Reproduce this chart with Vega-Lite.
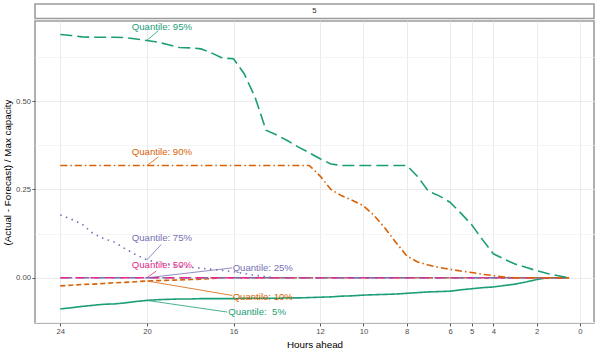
{
  "$schema": "https://vega.github.io/schema/vega-lite/v6.json",
  "padding": {"left": 1, "top": 3, "right": 5, "bottom": 5},
  "background": "white",
  "spacing": 0,
  "config": {
    "font": "Liberation Sans",
    "view": {"stroke": "#9c9c9c", "strokeWidth": 1.6, "fill": "white"}
  },
  "datasets": {
    "strip": [{"panel": "5"}],
    "labels": [
      {"label": "Quantile: 95%", "q": "q95", "h": 19.31, "v": 0.710, "ph": 20, "pv": 0.672, "sh": 19.47, "sv": 0.700},
      {"label": "Quantile: 90%", "q": "q90", "h": 19.31, "v": 0.356, "ph": 20, "pv": 0.318, "sh": 19.47, "sv": 0.342},
      {"label": "Quantile: 75%", "q": "q75", "h": 19.31, "v": 0.113, "ph": 20, "pv": 0.051, "sh": 19.34, "sv": 0.094},
      {"label": "Quantile: 50%", "q": "q50", "h": 19.31, "v": 0.035, "ph": 20, "pv": 0, "sh": 19.57, "sv": 0.019},
      {"label": "Quantile: 25%", "q": "q25", "h": 14.65, "v": 0.027, "ph": 20, "pv": 0, "sh": 16.06, "sv": 0.028},
      {"label": "Quantile: 10%", "q": "q10", "h": 14.65, "v": -0.054, "ph": 20, "pv": -0.009, "sh": 16.06, "sv": -0.05},
      {"label": "Quantile: \u00a05%", "q": "q5", "h": 14.91, "v": -0.097, "ph": 20, "pv": -0.064, "sh": 16.29, "sv": -0.097}
    ],
    "lines": [
      {"h":24,"q":"q5","v":-0.088},{"h":23.5,"q":"q5","v":-0.085},{"h":23,"q":"q5","v":-0.081},{"h":22.5,"q":"q5","v":-0.078},{"h":22,"q":"q5","v":-0.075},{"h":21.5,"q":"q5","v":-0.074},{"h":21,"q":"q5","v":-0.071},{"h":20.5,"q":"q5","v":-0.067},{"h":20,"q":"q5","v":-0.064},{"h":19.5,"q":"q5","v":-0.062},{"h":19,"q":"q5","v":-0.061},{"h":18.5,"q":"q5","v":-0.060},{"h":18,"q":"q5","v":-0.060},{"h":17.5,"q":"q5","v":-0.059},{"h":17,"q":"q5","v":-0.059},{"h":16.5,"q":"q5","v":-0.059},{"h":16,"q":"q5","v":-0.059},{"h":15.5,"q":"q5","v":-0.058},{"h":15,"q":"q5","v":-0.058},{"h":14.5,"q":"q5","v":-0.058},{"h":14,"q":"q5","v":-0.058},{"h":13.5,"q":"q5","v":-0.057},{"h":13,"q":"q5","v":-0.057},{"h":12.5,"q":"q5","v":-0.056},{"h":12,"q":"q5","v":-0.055},{"h":11.5,"q":"q5","v":-0.054},{"h":11,"q":"q5","v":-0.052},{"h":10.5,"q":"q5","v":-0.051},{"h":10,"q":"q5","v":-0.049},{"h":9.5,"q":"q5","v":-0.048},{"h":9,"q":"q5","v":-0.047},{"h":8.5,"q":"q5","v":-0.046},{"h":8,"q":"q5","v":-0.044},{"h":7.5,"q":"q5","v":-0.042},{"h":7,"q":"q5","v":-0.040},{"h":6.5,"q":"q5","v":-0.039},{"h":6,"q":"q5","v":-0.038},{"h":5.5,"q":"q5","v":-0.034},{"h":5,"q":"q5","v":-0.031},{"h":4.5,"q":"q5","v":-0.028},{"h":4,"q":"q5","v":-0.026},{"h":3.5,"q":"q5","v":-0.022},{"h":3,"q":"q5","v":-0.018},{"h":2.5,"q":"q5","v":-0.012},{"h":2,"q":"q5","v":-0.005},{"h":1.5,"q":"q5","v":0},{"h":1,"q":"q5","v":0},{"h":0.5,"q":"q5","v":0},

      {"h":24,"q":"q10","v":-0.023},{"h":23.5,"q":"q10","v":-0.021},{"h":23,"q":"q10","v":-0.019},{"h":22.5,"q":"q10","v":-0.018},{"h":22,"q":"q10","v":-0.016},{"h":21.5,"q":"q10","v":-0.014},{"h":21,"q":"q10","v":-0.013},{"h":20.5,"q":"q10","v":-0.011},{"h":20,"q":"q10","v":-0.009},{"h":19.5,"q":"q10","v":-0.008},{"h":19,"q":"q10","v":-0.007},{"h":18.5,"q":"q10","v":-0.006},{"h":18,"q":"q10","v":-0.005},{"h":17.5,"q":"q10","v":-0.004},{"h":17,"q":"q10","v":-0.002},{"h":16.5,"q":"q10","v":0},{"h":16,"q":"q10","v":0},{"h":15.5,"q":"q10","v":0},{"h":15,"q":"q10","v":0},{"h":14.5,"q":"q10","v":0},{"h":14,"q":"q10","v":0},{"h":13.5,"q":"q10","v":0},{"h":13,"q":"q10","v":0},{"h":12.5,"q":"q10","v":0},{"h":12,"q":"q10","v":0},{"h":11.5,"q":"q10","v":0},{"h":11,"q":"q10","v":0},{"h":10.5,"q":"q10","v":0},{"h":10,"q":"q10","v":0},{"h":9.5,"q":"q10","v":0},{"h":9,"q":"q10","v":0},{"h":8.5,"q":"q10","v":0},{"h":8,"q":"q10","v":0},{"h":7.5,"q":"q10","v":0},{"h":7,"q":"q10","v":0},{"h":6.5,"q":"q10","v":0},{"h":6,"q":"q10","v":0},{"h":5.5,"q":"q10","v":0},{"h":5,"q":"q10","v":0},{"h":4.5,"q":"q10","v":0},{"h":4,"q":"q10","v":0},{"h":3.5,"q":"q10","v":0},{"h":3,"q":"q10","v":0},{"h":2.5,"q":"q10","v":0},{"h":2,"q":"q10","v":0},{"h":1.5,"q":"q10","v":0},{"h":1,"q":"q10","v":0},{"h":0.5,"q":"q10","v":0},

      {"h":24,"q":"q25","v":0},{"h":23.5,"q":"q25","v":0},{"h":23,"q":"q25","v":0},{"h":22.5,"q":"q25","v":0},{"h":22,"q":"q25","v":0},{"h":21.5,"q":"q25","v":0},{"h":21,"q":"q25","v":0},{"h":20.5,"q":"q25","v":0},{"h":20,"q":"q25","v":0},{"h":19.5,"q":"q25","v":0},{"h":19,"q":"q25","v":0},{"h":18.5,"q":"q25","v":0},{"h":18,"q":"q25","v":0},{"h":17.5,"q":"q25","v":0},{"h":17,"q":"q25","v":0},{"h":16.5,"q":"q25","v":0},{"h":16,"q":"q25","v":0},{"h":15.5,"q":"q25","v":0},{"h":15,"q":"q25","v":0},{"h":14.5,"q":"q25","v":0},{"h":14,"q":"q25","v":0},{"h":13.5,"q":"q25","v":0},{"h":13,"q":"q25","v":0},{"h":12.5,"q":"q25","v":0},{"h":12,"q":"q25","v":0},{"h":11.5,"q":"q25","v":0},{"h":11,"q":"q25","v":0},{"h":10.5,"q":"q25","v":0},{"h":10,"q":"q25","v":0},{"h":9.5,"q":"q25","v":0},{"h":9,"q":"q25","v":0},{"h":8.5,"q":"q25","v":0},{"h":8,"q":"q25","v":0},{"h":7.5,"q":"q25","v":0},{"h":7,"q":"q25","v":0},{"h":6.5,"q":"q25","v":0},{"h":6,"q":"q25","v":0},{"h":5.5,"q":"q25","v":0},{"h":5,"q":"q25","v":0},{"h":4.5,"q":"q25","v":0},{"h":4,"q":"q25","v":0},{"h":3.5,"q":"q25","v":0},{"h":3,"q":"q25","v":0},{"h":2.5,"q":"q25","v":0},{"h":2,"q":"q25","v":0},{"h":1.5,"q":"q25","v":0},{"h":1,"q":"q25","v":0},{"h":0.5,"q":"q25","v":0},

      {"h":24,"q":"q50","v":0},{"h":23.5,"q":"q50","v":0},{"h":23,"q":"q50","v":0},{"h":22.5,"q":"q50","v":0},{"h":22,"q":"q50","v":0},{"h":21.5,"q":"q50","v":0},{"h":21,"q":"q50","v":0},{"h":20.5,"q":"q50","v":0},{"h":20,"q":"q50","v":0},{"h":19.5,"q":"q50","v":0},{"h":19,"q":"q50","v":0},{"h":18.5,"q":"q50","v":0},{"h":18,"q":"q50","v":0},{"h":17.5,"q":"q50","v":0},{"h":17,"q":"q50","v":0},{"h":16.5,"q":"q50","v":0},{"h":16,"q":"q50","v":0},{"h":15.5,"q":"q50","v":0},{"h":15,"q":"q50","v":0},{"h":14.5,"q":"q50","v":0},{"h":14,"q":"q50","v":0},{"h":13.5,"q":"q50","v":0},{"h":13,"q":"q50","v":0},{"h":12.5,"q":"q50","v":0},{"h":12,"q":"q50","v":0},{"h":11.5,"q":"q50","v":0},{"h":11,"q":"q50","v":0},{"h":10.5,"q":"q50","v":0},{"h":10,"q":"q50","v":0},{"h":9.5,"q":"q50","v":0},{"h":9,"q":"q50","v":0},{"h":8.5,"q":"q50","v":0},{"h":8,"q":"q50","v":0},{"h":7.5,"q":"q50","v":0},{"h":7,"q":"q50","v":0},{"h":6.5,"q":"q50","v":0},{"h":6,"q":"q50","v":0},{"h":5.5,"q":"q50","v":0},{"h":5,"q":"q50","v":0},{"h":4.5,"q":"q50","v":0},{"h":4,"q":"q50","v":0},{"h":3.5,"q":"q50","v":0},{"h":3,"q":"q50","v":0},{"h":2.5,"q":"q50","v":0},{"h":2,"q":"q50","v":0},{"h":1.5,"q":"q50","v":0},{"h":1,"q":"q50","v":0},{"h":0.5,"q":"q50","v":0},

      {"h":24,"q":"q75","v":0.178},{"h":23.5,"q":"q75","v":0.166},{"h":23,"q":"q75","v":0.152},{"h":22.5,"q":"q75","v":0.126},{"h":22,"q":"q75","v":0.111},{"h":21.5,"q":"q75","v":0.101},{"h":21,"q":"q75","v":0.082},{"h":20.5,"q":"q75","v":0.065},{"h":20,"q":"q75","v":0.051},{"h":19.5,"q":"q75","v":0.043},{"h":19,"q":"q75","v":0.037},{"h":18.5,"q":"q75","v":0.033},{"h":18,"q":"q75","v":0.030},{"h":17.5,"q":"q75","v":0.027},{"h":17,"q":"q75","v":0.024},{"h":16.5,"q":"q75","v":0.021},{"h":16,"q":"q75","v":0.017},{"h":15.5,"q":"q75","v":0.012},{"h":15,"q":"q75","v":0.007},{"h":14.5,"q":"q75","v":0.003},{"h":14,"q":"q75","v":0},{"h":13.5,"q":"q75","v":0},{"h":13,"q":"q75","v":0},{"h":12.5,"q":"q75","v":0},{"h":12,"q":"q75","v":0},{"h":11.5,"q":"q75","v":0},{"h":11,"q":"q75","v":0},{"h":10.5,"q":"q75","v":0},{"h":10,"q":"q75","v":0},{"h":9.5,"q":"q75","v":0},{"h":9,"q":"q75","v":0},{"h":8.5,"q":"q75","v":0},{"h":8,"q":"q75","v":0},{"h":7.5,"q":"q75","v":0},{"h":7,"q":"q75","v":0},{"h":6.5,"q":"q75","v":0},{"h":6,"q":"q75","v":0},{"h":5.5,"q":"q75","v":0},{"h":5,"q":"q75","v":0},{"h":4.5,"q":"q75","v":0},{"h":4,"q":"q75","v":0},{"h":3.5,"q":"q75","v":0},{"h":3,"q":"q75","v":0},{"h":2.5,"q":"q75","v":0},{"h":2,"q":"q75","v":0},{"h":1.5,"q":"q75","v":0},{"h":1,"q":"q75","v":0},{"h":0.5,"q":"q75","v":0},

      {"h":24,"q":"q90","v":0.318},{"h":23.5,"q":"q90","v":0.318},{"h":23,"q":"q90","v":0.318},{"h":22.5,"q":"q90","v":0.318},{"h":22,"q":"q90","v":0.318},{"h":21.5,"q":"q90","v":0.318},{"h":21,"q":"q90","v":0.318},{"h":20.5,"q":"q90","v":0.318},{"h":20,"q":"q90","v":0.318},{"h":19.5,"q":"q90","v":0.318},{"h":19,"q":"q90","v":0.318},{"h":18.5,"q":"q90","v":0.318},{"h":18,"q":"q90","v":0.318},{"h":17.5,"q":"q90","v":0.318},{"h":17,"q":"q90","v":0.318},{"h":16.5,"q":"q90","v":0.318},{"h":16,"q":"q90","v":0.318},{"h":15.5,"q":"q90","v":0.318},{"h":15,"q":"q90","v":0.318},{"h":14.5,"q":"q90","v":0.318},{"h":14,"q":"q90","v":0.318},{"h":13.5,"q":"q90","v":0.318},{"h":13,"q":"q90","v":0.318},{"h":12.5,"q":"q90","v":0.318},{"h":12,"q":"q90","v":0.288},{"h":11.5,"q":"q90","v":0.250},{"h":11,"q":"q90","v":0.232},{"h":10.5,"q":"q90","v":0.219},{"h":10,"q":"q90","v":0.204},{"h":9.5,"q":"q90","v":0.176},{"h":9,"q":"q90","v":0.140},{"h":8.5,"q":"q90","v":0.100},{"h":8,"q":"q90","v":0.062},{"h":7.5,"q":"q90","v":0.045},{"h":7,"q":"q90","v":0.036},{"h":6.5,"q":"q90","v":0.029},{"h":6,"q":"q90","v":0.024},{"h":5.5,"q":"q90","v":0.019},{"h":5,"q":"q90","v":0.015},{"h":4.5,"q":"q90","v":0.010},{"h":4,"q":"q90","v":0.006},{"h":3.5,"q":"q90","v":0.002},{"h":3,"q":"q90","v":0},{"h":2.5,"q":"q90","v":0},{"h":2,"q":"q90","v":0},{"h":1.5,"q":"q90","v":0},{"h":1,"q":"q90","v":0},{"h":0.5,"q":"q90","v":0},

      {"h":24,"q":"q95","v":0.689},{"h":23.5,"q":"q95","v":0.686},{"h":23,"q":"q95","v":0.682},{"h":22.5,"q":"q95","v":0.681},{"h":22,"q":"q95","v":0.681},{"h":21.5,"q":"q95","v":0.681},{"h":21,"q":"q95","v":0.680},{"h":20.5,"q":"q95","v":0.676},{"h":20,"q":"q95","v":0.672},{"h":19.5,"q":"q95","v":0.667},{"h":19,"q":"q95","v":0.660},{"h":18.5,"q":"q95","v":0.652},{"h":18,"q":"q95","v":0.651},{"h":17.5,"q":"q95","v":0.648},{"h":17,"q":"q95","v":0.636},{"h":16.5,"q":"q95","v":0.622},{"h":16,"q":"q95","v":0.620},{"h":15.5,"q":"q95","v":0.577},{"h":15,"q":"q95","v":0.510},{"h":14.5,"q":"q95","v":0.418},{"h":14,"q":"q95","v":0.404},{"h":13.5,"q":"q95","v":0.388},{"h":13,"q":"q95","v":0.370},{"h":12.5,"q":"q95","v":0.354},{"h":12,"q":"q95","v":0.337},{"h":11.5,"q":"q95","v":0.322},{"h":11,"q":"q95","v":0.318},{"h":10.5,"q":"q95","v":0.318},{"h":10,"q":"q95","v":0.318},{"h":9.5,"q":"q95","v":0.318},{"h":9,"q":"q95","v":0.318},{"h":8.5,"q":"q95","v":0.318},{"h":8,"q":"q95","v":0.318},{"h":7.5,"q":"q95","v":0.287},{"h":7,"q":"q95","v":0.245},{"h":6.5,"q":"q95","v":0.232},{"h":6,"q":"q95","v":0.214},{"h":5.5,"q":"q95","v":0.183},{"h":5,"q":"q95","v":0.150},{"h":4.5,"q":"q95","v":0.108},{"h":4,"q":"q95","v":0.068},{"h":3.5,"q":"q95","v":0.053},{"h":3,"q":"q95","v":0.039},{"h":2.5,"q":"q95","v":0.030},{"h":2,"q":"q95","v":0.020},{"h":1.5,"q":"q95","v":0.012},{"h":1,"q":"q95","v":0.006},{"h":0.5,"q":"q95","v":0}
    ]
  },
  "vconcat": [
    {
      "width": 559,
      "height": 14.5,
      "view": {"stroke": "#9c9c9c", "strokeWidth": 1.6, "fill": "white"},
      "data": {"name": "strip"},
      "mark": {"type": "text", "fontSize": 7.7, "color": "#333333", "baseline": "middle", "align": "center"},
      "encoding": {"text": {"field": "panel", "type": "nominal"}}
    },
    {
      "width": 559,
      "height": 302,
      "layer": [
        {
          "data": {"name": "lines"},
          "mark": {"type": "line", "strokeWidth": 1.6, "strokeCap": "butt"},
          "encoding": {
            "x": {
              "field": "h", "type": "quantitative", "title": "Hours ahead",
              "scale": {"domain": [-0.65, 25.17], "reverse": true, "nice": false, "zero": false},
              "axis": {
                "values": [24, 22, 20, 18, 16, 14, 12, 11, 10, 9, 8, 7, 6, 5.5, 5, 4.5, 4, 3, 2, 1, 0],
                "labelExpr": "indexof([24,20,16,12,10,8,6,5,4,2,0], datum.value) >= 0 ? datum.label : ''",
                "tickOpacity": {"condition": {"test": "indexof([24,20,16,12,10,8,6,5,4,2,0], datum.value) < 0", "value": 0}, "value": 1},
                "gridColor": {"condition": {"test": "indexof([24,20,16,12,10,8,6,5,4,2,0], datum.value) < 0", "value": "#f4f4f4"}, "value": "#ebebeb"},
                "gridWidth": 1,
                "domain": false,
                "tickColor": "#555555", "tickSize": 3, "tickWidth": 1,
                "labelFontSize": 7.7, "labelColor": "#4d4d4d", "labelPadding": 1.5,
                "labelFlush": false, "labelOverlap": false,
                "titleFontSize": 9.8, "titleColor": "#000000", "titleFontWeight": "normal", "titlePadding": 4
              }
            },
            "y": {
              "field": "v", "type": "quantitative", "title": "(Actual - Forecast) / Max capacity",
              "scale": {"domain": [-0.128, 0.727], "nice": false, "zero": false},
              "axis": {
                "values": [-0.125, 0, 0.125, 0.25, 0.375, 0.5, 0.625],
                "format": ".2f",
                "labelExpr": "indexof([0,0.25,0.5], datum.value) >= 0 ? datum.label : ''",
                "tickOpacity": {"condition": {"test": "indexof([0,0.25,0.5], datum.value) < 0", "value": 0}, "value": 1},
                "gridColor": {"condition": {"test": "indexof([0,0.25,0.5], datum.value) < 0", "value": "#f4f4f4"}, "value": "#ebebeb"},
                "gridWidth": 1,
                "domain": false,
                "tickColor": "#555555", "tickSize": 3, "tickWidth": 1,
                "labelFontSize": 7.7, "labelColor": "#4d4d4d", "labelPadding": 1.5,
                "labelFlush": false, "labelOverlap": false,
                "titleFontSize": 9.8, "titleColor": "#000000", "titleFontWeight": "normal", "titlePadding": 3
              }
            },
            "color": {
              "field": "q", "type": "nominal", "legend": null,
              "scale": {"domain": ["q5", "q10", "q25", "q50", "q75", "q90", "q95"], "range": ["#1b9e77", "#d95f02", "#7570b3", "#e7298a", "#7570b3", "#d95f02", "#1b9e77"]}
            },
            "strokeDash": {
              "field": "q", "type": "nominal", "legend": null,
              "scale": {"domain": ["q5", "q10", "q25", "q50", "q75", "q90", "q95"], "range": [[1, 0], [5, 3], [12, 5], [9, 6], [1.5, 4.5], [7, 3, 1.5, 3], [12, 5]]}
            }
          }
        },
        {
          "data": {"name": "labels"},
          "mark": {"type": "rule", "strokeWidth": 0.8},
          "encoding": {
            "x": {"field": "ph", "type": "quantitative", "title": "Hours ahead"},
            "y": {"field": "pv", "type": "quantitative", "title": "(Actual - Forecast) / Max capacity"},
            "x2": {"field": "sh"},
            "y2": {"field": "sv"},
            "color": {"field": "q", "type": "nominal", "legend": null}
          }
        },
        {
          "data": {"name": "labels"},
          "mark": {"type": "text", "fontSize": 9.6, "align": "center", "baseline": "middle"},
          "encoding": {
            "x": {"field": "h", "type": "quantitative", "title": "Hours ahead"},
            "y": {"field": "v", "type": "quantitative", "title": "(Actual - Forecast) / Max capacity"},
            "text": {"field": "label", "type": "nominal"},
            "color": {"field": "q", "type": "nominal", "legend": null}
          }
        }
      ]
    }
  ]
}
